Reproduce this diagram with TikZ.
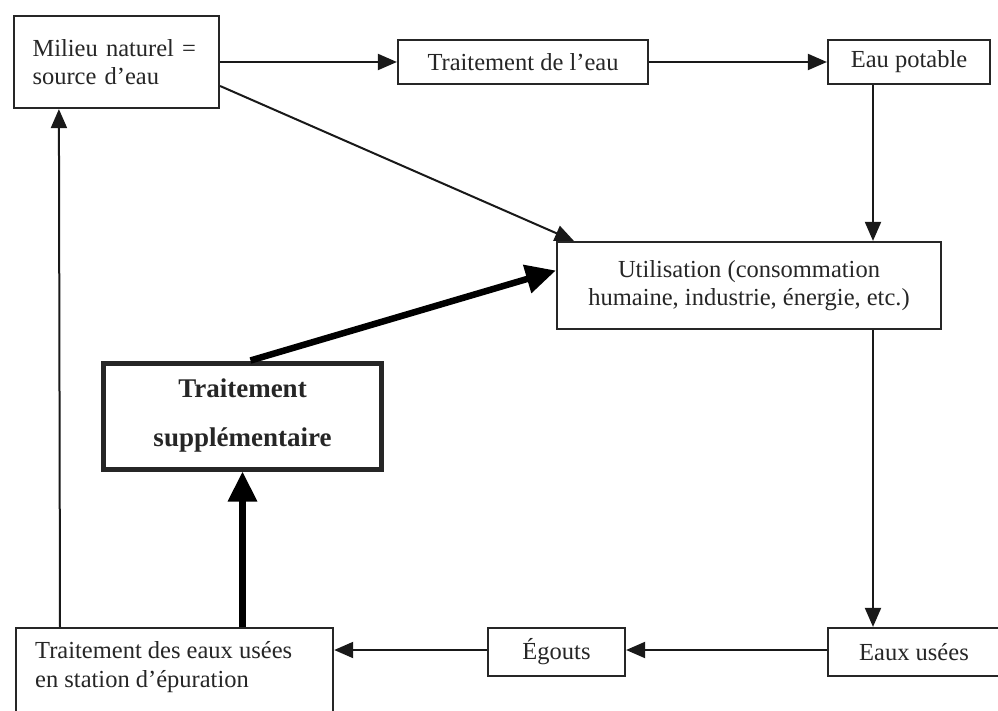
\documentclass[tikz,border=0pt]{standalone}
\usepackage{fontspec}
\setmainfont{Liberation Serif}
\usetikzlibrary{arrows.meta}
\begin{document}
\begin{tikzpicture}[x=1pt,y=-1pt,
  box/.style={draw=black!85, line width=2.2pt, fill=white, inner sep=0pt, text=black!85,
     font=\fontsize{24.5}{28}\selectfont},
  thinarr/.style={draw=black!90, line width=2pt, -{Triangle[length=19pt,width=16pt]}},
  thickarr/.style={draw=black, line width=6.5pt, -{Triangle[length=30pt,width=28pt]}}]
\clip (0,0) rectangle (998,711);
\fill[white] (0,0) rectangle (998,711);
% nodes
\node[box, minimum width=205pt, minimum height=92pt, text width=168pt, align=left] (milieu) at (116.5,62) {Milieu naturel =\\source d'eau};
\node[box, minimum width=250pt, minimum height=44pt] (eau) at (523,62) {Traitement de l'eau};
\node[box, minimum width=162pt, minimum height=44pt] (potable) at (909,62) {Eau potable};
\node[box, minimum width=384pt, minimum height=87pt, align=center] (util) at (749,285.5) {Utilisation (consommation\\humaine, industrie, énergie, etc.)};
\node[box, line width=5pt, minimum width=278pt, minimum height=106pt, align=center,
      font=\fontsize{27}{49}\selectfont\bfseries] (supp) at (242.5,416) {Traitement\\supplémentaire};
\node[box, anchor=north west, minimum width=317pt, minimum height=160pt] (station) at (15,627) {};
\node[anchor=west, align=left, text=black!85, font=\fontsize{24.5}{29}\selectfont, inner sep=0pt] (stationtxt) at ([xshift=20pt,yshift=-40pt]station.north west) {Traitement des eaux usées\\en station d'épuration};
\node[box, minimum width=137pt, minimum height=48pt] (egouts) at (556.5,652) {Égouts};
\node[box, minimum width=172pt, minimum height=48pt] (usees) at (914,652) {Eaux usées};
\coordinate (vx) at (873,0);
% connectors
\draw[thinarr] (milieu.east) -- (eau.west);
\draw[thinarr] (eau.east) -- (potable.west);
\draw[thinarr] ([yshift=-24pt]milieu.east) -- ([xshift=18pt]util.north west);
\draw[thinarr] (vx |- potable.south) -- (vx |- util.north);
\draw[thinarr] (vx |- util.south) -- (vx |- usees.north);
\draw[thinarr] ([yshift=2pt]usees.west) -- ([yshift=2pt]egouts.east);
\draw[thinarr] ([yshift=2pt]egouts.west) -- ([yshift=2pt]egouts.west -| station.east);
\draw[thinarr] ([xshift=45pt]station.north west) -- ([xshift=46pt]milieu.south west);
\draw[thickarr] (station.north -| supp.south) -- (supp.south);
\draw[thickarr] ([xshift=8pt]supp.north) -- ([yshift=15pt]util.west);
\end{tikzpicture}
\end{document}
